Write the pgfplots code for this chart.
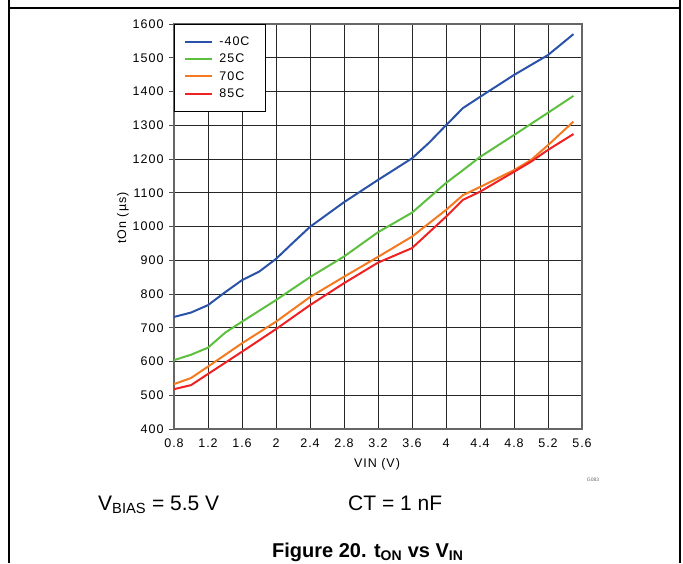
\documentclass[border=0pt]{standalone}
\usepackage{fontspec}
\setmainfont{Liberation Sans}
\newfontfamily\chartfont[LetterSpace=8]{Liberation Sans}
\usepackage{pgfplots}
\pgfplotsset{compat=1.18}
\definecolor{cblue}{HTML}{2A52A8}
\definecolor{cgreen}{HTML}{5CBF3F}
\definecolor{corange}{HTML}{F47A20}
\definecolor{cred}{HTML}{EE2222}
\begin{document}
\begin{tikzpicture}[x=1pt,y=1pt]
\path[use as bounding box] (0,0) rectangle (683,563);
\draw[line width=1.3pt] (9,0)--(9,563);
\draw[line width=1.3pt] (680,0)--(680,563);
\draw[line width=1.3pt] (9,555)--(680,555);
\begin{axis}[
  at={(174pt,134pt)}, anchor=south west,
  scale only axis, width=408pt, height=405pt,
  xmin=0.8, xmax=5.6, ymin=400, ymax=1600,
  xtick={0.8,1.2,1.6,2,2.4,2.8,3.2,3.6,4,4.4,4.8,5.2,5.6},
  xticklabels={0.8,1.2,1.6,2,2.4,2.8,3.2,3.6,4,4.4,4.8,5.2,5.6},
  ytick={400,500,600,700,800,900,1000,1100,1200,1300,1400,1500,1600},
  yticklabels={400,500,600,700,800,900,1000,1100,1200,1300,1400,1500,1600},
  grid=major,
  major grid style={black!85, line width=0.9pt},
  axis line style={black!60, line width=1.4pt},
  tick align=outside,
  ytick pos=left, xtick pos=bottom,
  xtick style={draw=none},
  ytick style={black!70, line width=0.9pt},
  major tick length=5pt,
  tick label style={font=\chartfont\fontsize{12.5}{14}\selectfont},
  yticklabel style={xshift=-2pt},
  xticklabel style={yshift=-1pt},
  legend style={at={(0,1)}, anchor=north west, draw=black, line width=0.8pt,
    fill=white, font=\chartfont\fontsize{12.5}{14}\selectfont, row sep=3pt,
    inner xsep=10pt, inner ysep=10.5pt, legend cell align=left,
    nodes={inner xsep=6pt}},
  legend image code/.code={\draw[#1, line width=2pt] (0pt,0pt)--(27pt,0pt);},
  every axis plot/.append style={line width=2pt},
]
\addplot[cblue] coordinates {(0.8,732) (1.0,745) (1.2,767) (1.4,805) (1.6,841) (1.8,866) (2.0,904) (2.2,952) (2.4,999) (2.8,1072) (3.2,1138) (3.6,1202) (3.8,1248) (4.0,1300) (4.2,1351) (4.4,1384) (4.8,1449) (5.2,1508) (5.5,1570)};
\addlegendentry{-40C}
\addplot[cgreen] coordinates {(0.8,604) (1.0,620) (1.2,641) (1.4,685) (1.6,718) (2.0,782) (2.4,850) (2.8,911) (3.2,983) (3.6,1041) (4.0,1129) (4.2,1167) (4.4,1206) (4.8,1271) (5.2,1337) (5.5,1387)};
\addlegendentry{25C}
\addplot[corange] coordinates {(0.8,533) (1.0,551) (1.2,585) (1.6,654) (2.0,718) (2.4,791) (2.8,851) (3.2,910) (3.6,970) (4.0,1049) (4.2,1093) (4.4,1117) (4.8,1167) (5.0,1197) (5.2,1241) (5.5,1311)};
\addlegendentry{70C}
\addplot[cred] coordinates {(0.8,518) (1.0,530) (1.2,563) (1.6,629) (2.0,696) (2.4,767) (2.8,832) (3.2,893) (3.6,936) (4.0,1029) (4.2,1079) (4.4,1103) (4.8,1162) (5.0,1192) (5.2,1227) (5.5,1274)};
\addlegendentry{85C}
\end{axis}
\node[rotate=90, font=\chartfont\fontsize{12.5}{14}\selectfont] at (123,345) {tOn (µs)};
\node[font=\chartfont\fontsize{12.5}{14}\selectfont] at (377,99) {VIN (V)};
\node[font=\fontsize{5}{6}\selectfont, text=black!60] at (593,83) {G083};
\node[anchor=base west, font=\fontsize{21}{24}\selectfont, inner sep=0pt] at (98,53) {V\textsubscript{BIAS} = 5.5 V};
\node[anchor=base west, font=\fontsize{21}{24}\selectfont, inner sep=0pt] at (348,53) {CT = 1 nF};
\node[anchor=base west, font=\fontsize{20}{24}\selectfont\bfseries, inner sep=0pt] at (272,6) {Figure 20. t\textsubscript{ON} vs V\textsubscript{IN}};
\end{tikzpicture}
\end{document}
